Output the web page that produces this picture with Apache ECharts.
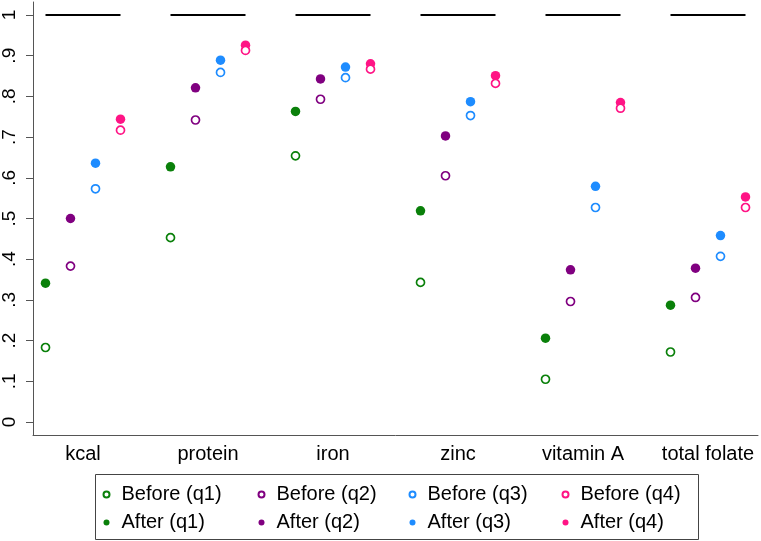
<!DOCTYPE html>
<html>
<head>
<meta charset="utf-8">
<script src="https://cdn.jsdelivr.net/npm/echarts@6/dist/echarts.min.js"></script>
<style>html,body{margin:0;padding:0;background:#fff}#c{width:761px;height:541px}</style>
</head>
<body>
<div id="c"></div>
<script>
var categories = ['kcal', 'protein', 'iron', 'zinc', 'vitamin A', 'total folate'];
var beforeQ1 = [0.183, 0.453, 0.654, 0.343, 0.105, 0.172];
var afterQ1  = [0.341, 0.627, 0.763, 0.519, 0.206, 0.287];
var beforeQ2 = [0.383, 0.742, 0.793, 0.605, 0.296, 0.306];
var afterQ2  = [0.500, 0.821, 0.843, 0.703, 0.374, 0.378];
var beforeQ3 = [0.573, 0.859, 0.846, 0.753, 0.527, 0.407];
var afterQ3  = [0.636, 0.889, 0.872, 0.787, 0.579, 0.458];
var beforeQ4 = [0.717, 0.913, 0.867, 0.832, 0.771, 0.527];
var afterQ4  = [0.744, 0.926, 0.880, 0.851, 0.785, 0.553];
var refLevel = [1, 1, 1, 1, 1, 1];
var yTickValues = [0, 0.1, 0.2, 0.3, 0.4, 0.5, 0.6, 0.7, 0.8, 0.9, 1];
var yTickLabels = ['0', '.1', '.2', '.3', '.4', '.5', '.6', '.7', '.8', '.9', '1'];

var FONT = '"Liberation Sans", Arial, sans-serif';
var colors = ['#0a800a', '#800080', '#1e8cff', '#ff1485'];
var qOffsets = [-0.3, -0.1, 0.1, 0.3];

function pts(arr, q) {
  return arr.map(function (v, i) { return [i + qOffsets[q], v]; });
}
function beforeSeries(name, arr, q) {
  return {
    name: name, type: 'scatter', data: pts(arr, q), symbol: 'circle', symbolSize: 8, z: 4,
    itemStyle: { color: '#fff', borderColor: colors[q], borderWidth: 1.7, opacity: 1 }
  };
}
function afterSeries(name, arr, q) {
  return {
    name: name, type: 'scatter', data: pts(arr, q), symbol: 'circle', symbolSize: 9.5, z: 3,
    itemStyle: { color: colors[q], borderWidth: 0, opacity: 1 }
  };
}
function legendCol(left, q) {
  return {
    orient: 'vertical', left: left, top: 484.5, itemWidth: 20, itemHeight: 6, itemGap: 8,
    selectedMode: false, padding: 0,
    textStyle: { fontFamily: FONT, fontSize: 20, color: '#000' },
    data: ['Before (q' + (q + 1) + ')', 'After (q' + (q + 1) + ')']
  };
}

var chart = echarts.init(document.getElementById('c'));
chart.setOption({
  animation: false,
  backgroundColor: '#fff',
  grid: { left: 33, right: 3, top: 2, bottom: 106, containLabel: false },
  xAxis: {
    type: 'value', min: -0.4, max: 5.4,
    axisLine: { onZero: false, lineStyle: { color: '#555', width: 1 } },
    axisTick: { show: false },
    splitLine: { show: false },
    axisLabel: {
      customValues: [0, 1, 2, 3, 4, 5],
      formatter: function (v) { return categories[Math.round(v)]; },
      fontFamily: FONT, fontSize: 20, color: '#000', margin: 9
    }
  },
  yAxis: {
    type: 'value', min: -0.032, max: 1.032,
    axisLine: { show: true, onZero: false, lineStyle: { color: '#555', width: 1 } },
    axisTick: { show: true, customValues: yTickValues, length: 7, lineStyle: { color: '#555' } },
    splitLine: { show: false },
    axisLabel: {
      customValues: yTickValues, rotate: 90,
      formatter: function (v) {
        var idx = -1;
        yTickValues.forEach(function (t, i) { if (Math.abs(t - v) < 1e-9) idx = i; });
        return idx >= 0 ? yTickLabels[idx] : '';
      },
      fontFamily: FONT, fontSize: 19, color: '#000', margin: 14
    }
  },
  legend: [legendCol(102.5, 0), legendCol(257.5, 1), legendCol(408.5, 2), legendCol(561.5, 3)],
  graphic: [{
    type: 'rect', left: 93, top: 472, silent: true,
    shape: { width: 603, height: 65 },
    style: { fill: 'none', stroke: '#444', lineWidth: 1 }
  }],
  series: [
    afterSeries('After (q1)', afterQ1, 0),
    afterSeries('After (q2)', afterQ2, 1),
    afterSeries('After (q3)', afterQ3, 2),
    afterSeries('After (q4)', afterQ4, 3),
    beforeSeries('Before (q1)', beforeQ1, 0),
    beforeSeries('Before (q2)', beforeQ2, 1),
    beforeSeries('Before (q3)', beforeQ3, 2),
    beforeSeries('Before (q4)', beforeQ4, 3),
    {
      type: 'custom', name: 'ref', silent: true, z: 2,
      data: refLevel.map(function (v, i) { return [i, v]; }),
      renderItem: function (params, api) {
        var i = api.value(0), v = api.value(1);
        var a = api.coord([i + qOffsets[0], v]);
        var b = api.coord([i + qOffsets[3], v]);
        return {
          type: 'line',
          shape: { x1: a[0], y1: a[1], x2: b[0], y2: b[1] },
          style: { stroke: '#000', lineWidth: 2 }
        };
      }
    }
  ]
});
</script>
</body>
</html>
